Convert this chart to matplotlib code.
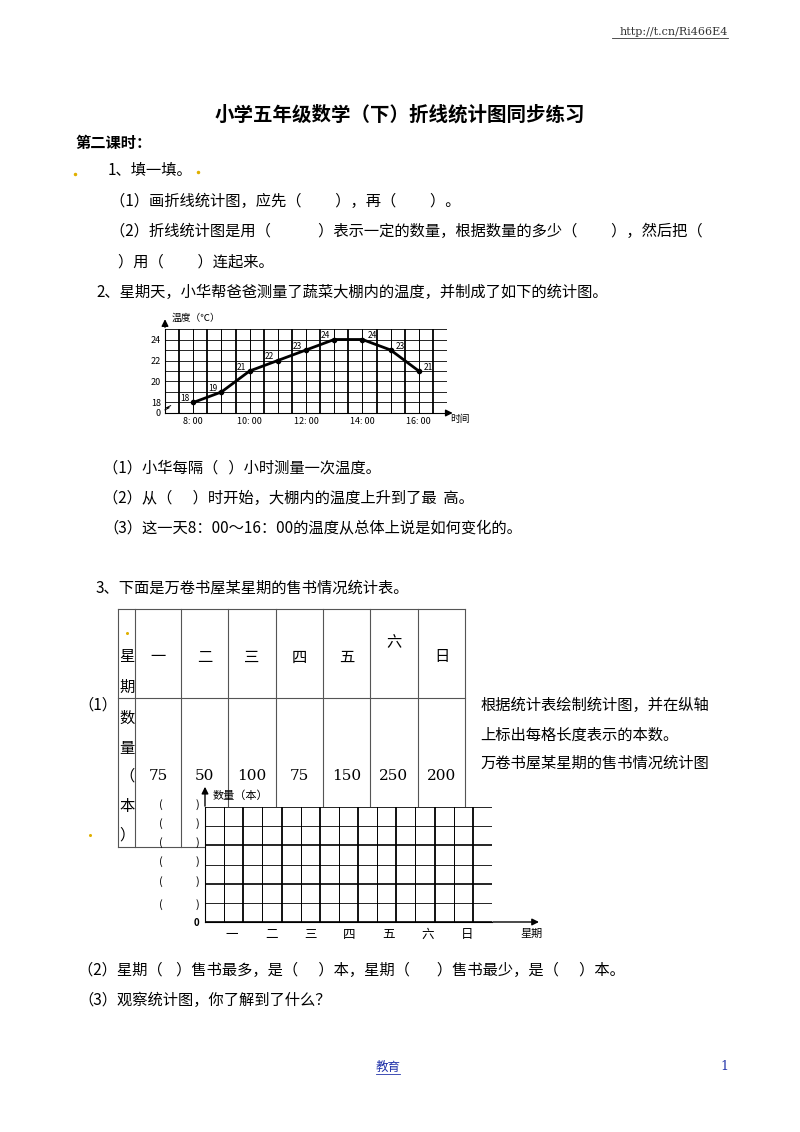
import numpy as np
import matplotlib.pyplot as plt

plt.rcParams['font.family'] = ['Noto Sans CJK SC', 'DejaVu Sans']

W, H = 800, 1132

# temperature chart data
hours = [8, 9, 10, 11, 12, 13, 14, 15, 16]
temps = [18, 19, 21, 22, 23, 24, 24, 23, 21]
hour_ticks = [8, 10, 12, 14, 16]
temp_ticks = [18, 20, 22, 24]

# book sales table data
days = ['一', '二', '三', '四', '五', '六', '日']
sales = [75, 50, 100, 75, 150, 250, 200]

fig = plt.figure(figsize=(W / 100, H / 100), dpi=100)
page = fig.add_axes([0, 0, 1, 1])
page.set_xlim(0, W)
page.set_ylim(H, 0)
page.axis('off')


def txt(x, y, s, size=11, **kw):
    page.text(x, y, s, fontsize=size, va='center', **kw)


def inset(x0, y0, x1, y1):
    return fig.add_axes([x0 / W, 1 - y1 / H, (x1 - x0) / W, (y1 - y0) / H])


txt(728, 32, 'http://t.cn/Ri466E4', size=8, ha='right', color='#333',
    family='DejaVu Serif')
page.plot([612, 728], [38, 38], color='#333', lw=0.6)
txt(400, 115, '小学五年级数学（下）折线统计图同步练习', size=14, ha='center', weight='bold')
txt(75, 143, '第二课时：', weight='bold')
txt(108, 170, '1、填一填。')
page.plot([75, 198], [174, 172], 'o', color='#e0b000', ms=1.5)
txt(110, 201, '（1）画折线统计图，应先（          ），再（          ）。')
txt(110, 231, '（2）折线统计图是用（              ）表示一定的数量，根据数量的多少（          ），然后把（')
txt(118, 262, '）用（          ）连起来。')
txt(96, 292, '2、星期天，小华帮爸爸测量了蔬菜大棚内的温度，并制成了如下的统计图。')

# ---- line chart ----
ax = inset(165, 329, 447, 413)
ax.set_xlim(7, 17)
ax.set_ylim(17, 25)
for i, v in enumerate(np.arange(7, 17.01, 0.5)):
    ax.axvline(v, color='k', lw=1.3 if i % 2 else 0.7)
for v in range(18, 26):
    ax.axhline(v, color='k', lw=0.6)
ax.plot(hours, temps, 'k-o', lw=2, ms=3)
for h, t in zip(hours, temps):
    dx = -0.3 if h < 14 else 0.35
    ax.text(h + dx, t + 0.35, str(t), fontsize=6, ha='center', va='center')
for s in ['top', 'right']:
    ax.spines[s].set_visible(False)
ax.set_xticks(hour_ticks)
ax.set_xticklabels([f'{h}: 00' for h in hour_ticks], fontsize=6.5)
ax.set_yticks([17] + temp_ticks)
ax.set_yticklabels(['0'] + [str(t) for t in temp_ticks], fontsize=6.5)
ax.tick_params(length=0, pad=3)
ax.annotate('', xy=(7, 26.2), xytext=(7, 24.9), annotation_clip=False,
            arrowprops=dict(arrowstyle='-|>', color='k', lw=1))
ax.annotate('', xy=(17.3, 17), xytext=(16.9, 17), annotation_clip=False,
            arrowprops=dict(arrowstyle='-|>', color='k', lw=1))
ax.text(7.25, 26.1, '温度（℃）', fontsize=7, va='center')
ax.text(17.1, 16.4, '时间', fontsize=7, va='center')
ax.plot([7, 7.15, 7.05, 7.2], [17.3, 17.5, 17.5, 17.7], 'k-', lw=0.7, clip_on=False)

txt(103, 468, '（1）小华每隔（   ）小时测量一次温度。')
txt(103, 498, '（2）从（      ）时开始，大棚内的温度上升到了最  高。')
txt(103, 528, '（3）这一天8：00～16：00的温度从总体上说是如何变化的。')
txt(96, 588, '3、下面是万卷书屋某星期的售书情况统计表。')

# ---- table ----
cols = [118, 181, 228, 276, 323, 370, 418, 465]
top, mid, bot = 609, 698, 847
for x in cols:
    page.plot([x, x], [top, bot], color='#555', lw=0.8)
page.plot([135, 135], [top, bot], color='#555', lw=0.8)
for y in [top, mid, bot]:
    page.plot([118, 465], [y, y], color='#555', lw=0.8)
for ch, y in zip('星期数量（本）', [657, 687, 718, 748, 776, 806, 835]):
    txt(127, y, ch, ha='center')
for i, (d, v) in enumerate(zip(days, sales)):
    cx = (cols[i] + cols[i + 1]) / 2
    if i == 0:
        cx = 158
    txt(cx, 643 if d == '六' else 657, d, ha='center', family='Noto Sans CJK SC')
    txt(cx, 776, str(v), ha='center', family='DejaVu Serif')
page.plot([127], [633], 'o', color='#e0b000', ms=1.2)

txt(78, 705, '（1）')
txt(480, 705, '根据统计表绘制统计图，并在纵轴')
txt(480, 735, '上标出每格长度表示的本数。')
txt(480, 763, '万卷书屋某星期的售书情况统计图')

# ---- empty grid for drawing ----
bx = inset(205, 807, 492, 922)
bx.set_xlim(0, 15)
bx.set_ylim(0, 6)
for v in range(16):
    bx.axvline(v, color='k', lw=1.3 if v % 2 == 0 else 0.7)
for v in range(7):
    bx.axhline(v, color='k', lw=1.2 if v % 2 == 0 else 0.6)
for s in ['top', 'right']:
    bx.spines[s].set_visible(False)
bx.set_xticks(np.arange(1.4, 15, 2.05)[:7])
bx.set_xticklabels(days, fontsize=9, family='Noto Sans CJK SC')
bx.set_yticks([0])
bx.set_yticklabels(['0'], fontsize=7, weight='bold')
bx.tick_params(length=0, pad=4)
bx.annotate('', xy=(0, 7.2), xytext=(0, 5.9), annotation_clip=False,
            arrowprops=dict(arrowstyle='-|>', color='k', lw=1))
bx.annotate('', xy=(17.6, 0), xytext=(14.9, 0), annotation_clip=False,
            arrowprops=dict(arrowstyle='-|>', color='k', lw=1))
bx.text(0.4, 6.6, '数量（本）', fontsize=8, va='center')
bx.text(16.5, -0.6, '星期', fontsize=8, va='center')
for y in [805, 824, 843, 862, 882, 905]:
    txt(161, y, '(', size=8, ha='center')
    txt(197, y, ')', size=8, ha='center')
page.plot([90], [835], 'o', color='#e0b000', ms=1.2)

txt(78, 970, '（2）星期（    ）售书最多，是（      ）本，星期（        ）售书最少，是（      ）本。')
txt(78, 1000, '（3）观察统计图，你了解到了什么？')
txt(388, 1067, '教育', size=9, ha='center', color='#2233aa')
page.plot([376, 400], [1074, 1074], color='#2233aa', lw=0.6)
txt(724, 1067, '1', size=9, ha='center', color='#2233aa', family='DejaVu Serif')

fig.savefig('out.png', dpi=100)
